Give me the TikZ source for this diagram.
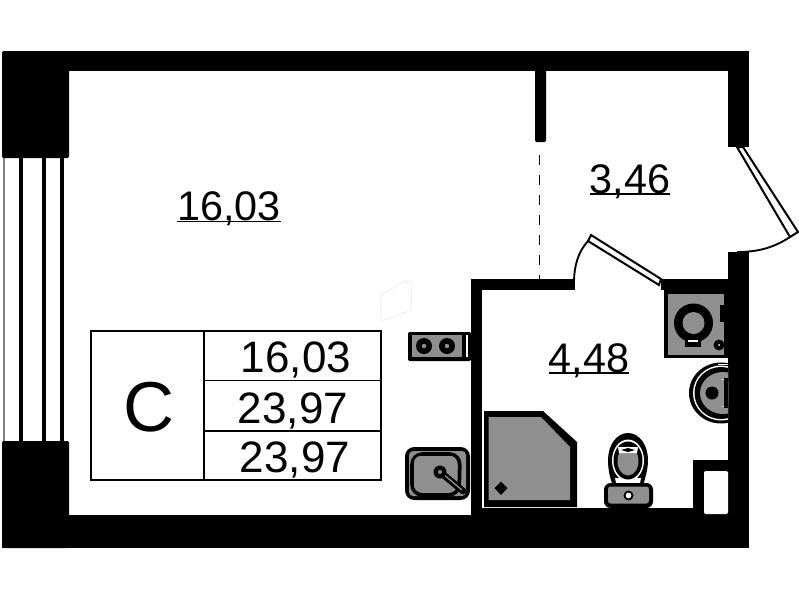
\documentclass[tikz,border=0pt]{standalone}
\usepackage{fontspec}
\setmainfont{Liberation Sans}
\newsavebox{\ulbox}
\newcommand{\ulabel}[1]{\sbox{\ulbox}{#1}\rlap{\rule[-1.2pt]{\wd\ulbox}{1.1pt}}\usebox{\ulbox}}
\definecolor{fixt}{gray}{0.56}
\tikzset{
  wall/.style={fill=black,draw=none},
  leaf/.style={draw=black,fill=white,line width=1.5pt,line join=miter},
  cellline/.style={draw=black,line width=1.4pt},
  roomlabel/.style={font=\fontsize{31}{31}\selectfont,inner sep=0pt,anchor=base},
  tablabel/.style={font=\fontsize{33}{33}\selectfont,inner sep=0pt,anchor=base},
}
\begin{document}
\begin{tikzpicture}[x=0.75pt,y=-0.75pt]
\useasboundingbox (0,0) rectangle (799,600);
\fill[white] (0,0) rectangle (799,600);
% window
\draw[line width=1.6pt,gray] (4,158) -- (4,441);
\foreach \x in {21,44,62} \draw[line width=2.4pt] (\x,158) -- (\x,441);
% outer walls
\fill[wall,rounded corners=1pt] (2,51) rectangle (69,158);
\fill[wall,rounded corners=1pt] (2,441) rectangle (69,548);
\fill[wall] (60,51) rectangle (749,71);
\fill[wall] (2,515) rectangle (749,548);
\fill[wall] (728,51) rectangle (749,147);
\fill[wall] (728,252) rectangle (749,548);
% partition
\fill[wall,rounded corners=1pt] (535,65) rectangle (546,142);
\draw[line width=1.1pt,dash pattern=on 7.5pt off 7.5pt] (539.5,155) -- (539.5,280);
% bathroom walls
\fill[wall] (471,279) rectangle (575,290);
\fill[wall] (471,279) rectangle (482,520);
\fill[wall] (661,279) rectangle (735,290);
\fill[wall] (482,508) rectangle (704,520);
% shaft
\fill[wall] (693,460) rectangle (730,520);
\fill[white,rounded corners=1pt] (704,471) rectangle (728,514);
% doors
\draw[leaf] (737,147) -- (743,147) -- (798,232) -- (790,237) -- cycle;
\draw[line width=1.4pt] (790,237) .. controls (772,249) and (755,252) .. (737,252);
\draw[leaf] (591,235) -- (661,279) -- (659,285) -- (588,241) -- cycle;
\draw[line width=1.4pt] (588,241) .. controls (578,252) and (574,266) .. (574,283);
% ghost mark
\draw[black!7,line width=0.6pt] (380,296) -- (405,281) -- (412,283) -- (411,310) -- (382,321) -- cycle;
% table
\draw[cellline] (91,331) rectangle (381,480);
\draw[cellline] (204,331) -- (204,480);
\draw[cellline] (204,380.5) -- (381,380.5);
\draw[cellline] (204,431) -- (381,431);
\node[inner sep=0pt,font=\fontsize{53}{53}\selectfont,anchor=base] (cls) at (149,431) {C};
\node[tablabel] (a1) at (296,372) {16,03};
\node[tablabel] (a2) at (293,423) {23,97};
\node[tablabel] (a3) at (295,472) {23,97};
% room labels
\node[roomlabel] (r1) at (229,220.5) {\ulabel{16,03}};
\node[roomlabel] (r2) at (630,193) {\ulabel{3,46}};
\node[roomlabel] (r3) at (589,372) {\ulabel{4,48}};
% hob
\fill[wall,rounded corners=1pt] (408,332) rectangle (471,361);
\fill[fixt] (412,335) rectangle (462,357);
\draw[white,line width=0.8pt] (467,335) -- (467,357);
\foreach \x in {424,447} {
  \fill[black] (\x,346) circle (8);
  \fill[fixt] (\x,346) circle (2.2);
}
% sink
\fill[black,rounded corners=7pt] (405,447) rectangle (470,500);
\fill[fixt,rounded corners=3pt] (409,451) rectangle (466,496);
\draw[black,line width=2.8pt,rounded corners=8pt] (412,454) -- (460,454) -- (459,495) -- (412,495) -- cycle;
\fill[fixt,rounded corners=5pt] (414,456) rectangle (457,492);
\draw[black,line width=5pt,line cap=round] (440,472) -- (463,491);
\draw[fixt,line width=1pt] (443,474) -- (462,490);
\fill[black] (440,472) circle (6.5);
\fill[fixt] (440,472) circle (2);
% shower
\fill[black] (484,411) -- (543,411) -- (577,442) -- (577,507) -- (484,507) -- cycle;
\fill[fixt] (488.5,417) -- (541,417) -- (570,447) -- (570,500) -- (488.5,500) -- cycle;
\fill[black] (501,481.5) -- (507.5,488) -- (501,495) -- (494.5,488) -- cycle;
% toilet
\fill[black] (628,433) .. controls (640,433) and (648,446) .. (648,460) .. controls (648,470) and (645,478) .. (643,486) -- (613,486) .. controls (610,478) and (608,470) .. (608,460) .. controls (608,446) and (616,433) .. (628,433) -- cycle;
\fill[white] (628,460.5) ellipse (16 and 21);
\fill[black] (613,484) rectangle (643,488);
\fill[white] (615,478) -- (641,478) -- (640,483) -- (616,483) -- cycle;
\fill[black] (628,460.5) ellipse (14.5 and 19);
\fill[fixt] (628,461) ellipse (10.5 and 14.5);
\fill[white] (618,447) -- (638,447) -- (637,453) -- (619,453) -- cycle;
\fill[black] (621,450) -- (628,448) -- (635,450) -- (628,452) -- cycle;
\fill[black,rounded corners=5pt] (604,483) rectangle (653,508);
\fill[fixt,rounded corners=2pt] (608,486.5) rectangle (649,503.5);
\fill[black] (628.5,495.5) circle (5);
\fill[white] (628.5,495.5) circle (2.8);
% wash basin
\begin{scope}
\clip (680,360) rectangle (728,426);
\fill[black] (721,393) ellipse (32 and 30.5);
\fill[white] (721,393) ellipse (28 and 27.5);
\fill[black] (721,393) ellipse (26.5 and 26);
\fill[fixt] (723,393) ellipse (23 and 21);
\fill[white] (722,393) ellipse (11 and 14);
\fill[fixt] (720,393) ellipse (11 and 14);
\fill[black] (712,393) circle (6.5);
\fill[black] (724,378) rectangle (730,408);
\end{scope}
\draw[white,line width=1.2pt] (718,364.5) -- (728,364.5);
% washing machine
\fill[black] (664,290) rectangle (728,358);
\fill[fixt] (668,294) rectangle (724,355);
\fill[black] (720,305) rectangle (730,322);
\fill[black] (693.5,323) circle (19.5);
\fill[fixt] (693.5,323) circle (11);
\fill[black] (685,338) rectangle (701,347);
\fill[white] (688,340) rectangle (698,341.5);
\fill[black] (719,345) circle (5.5);
\fill[white] (719,345) circle (1);
\end{tikzpicture}
\end{document}
